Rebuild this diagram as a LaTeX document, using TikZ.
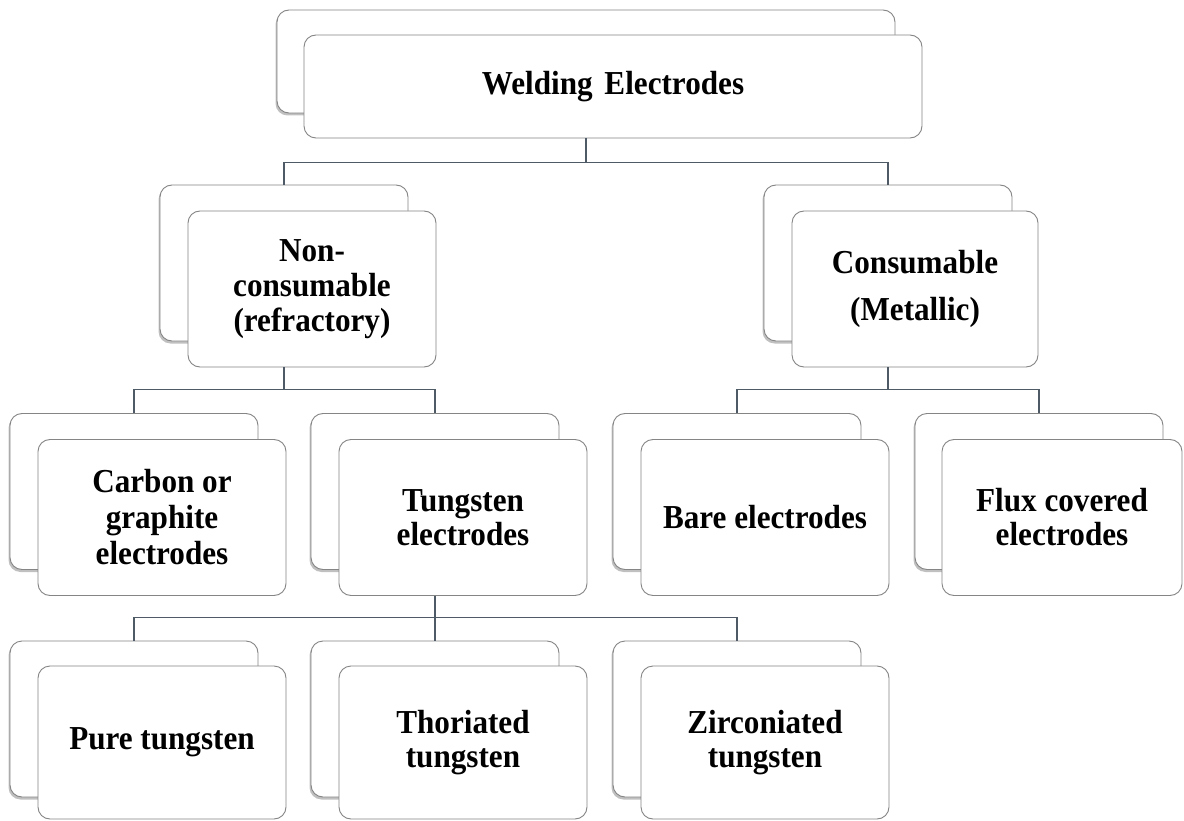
\documentclass[tikz,border=0pt]{standalone}
\usepackage{fontspec}
\setmainfont{Liberation Serif}
\newfontfamily\lblfont{Liberation Serif Bold}[FakeStretch=0.93]
\usetikzlibrary{shadows}
\definecolor{boxline}{HTML}{858585}
\definecolor{connline}{HTML}{4E5A65}
\begin{document}
\begin{tikzpicture}[x=1pt,y=-1pt,
  backbox/.style={draw=boxline, line width=0.9pt, fill=white, rounded corners=12pt,
    inner sep=0pt, minimum width=248pt, minimum height=156pt,
    drop shadow={shadow xshift=-1.5pt, shadow yshift=-2.5pt, opacity=0.35, fill=black!70}},
  frontbox/.style={draw=boxline, line width=0.9pt, fill=white, rounded corners=12pt,
    inner sep=0pt, minimum width=248pt, minimum height=156pt, align=center,
    font=\fontsize{33.5}{34}\lblfont},
  conn/.style={draw=connline, line width=1.6pt}]
\useasboundingbox[fill=white] (0,0) rectangle (1184,821);

% level 1
\node[backbox, minimum width=618pt, minimum height=103pt] (we-b) at (586,61.5) {};
\node[frontbox, minimum width=618pt, minimum height=103pt] (we-f) at (613,86.5) {Welding\hspace{0.12em} Electrodes};

% level 2
\node[backbox] (nc-b) at (284,263) {};
\node[frontbox, font=\fontsize{33.5}{35}\lblfont] (nc-f) at (312,289) {Non-\\consumable\\(refractory)};
\node[backbox] (co-b) at (888,263) {};
\node[frontbox, minimum width=246pt, font=\fontsize{33.5}{47}\lblfont] (co-f) at (915,289) {Consumable\\(Metallic)};

% level 3
\node[backbox] (ca-b) at (134,491.5) {};
\node[frontbox, font=\fontsize{33.5}{36}\lblfont] (ca-f) at (162,517.5) {Carbon or\\graphite\\electrodes};
\node[backbox] (tu-b) at (435,491.5) {};
\node[frontbox] (tu-f) at (463,517.5) {Tungsten\\electrodes};
\node[backbox] (ba-b) at (737,491.5) {};
\node[frontbox] (ba-f) at (765,517.5) {Bare electrodes};
\node[backbox] (fl-b) at (1039,491.5) {};
\node[frontbox, minimum width=240pt] (fl-f) at (1062,517.5) {Flux covered\\electrodes};

% level 4
\node[backbox] (pu-b) at (134,719) {};
\node[frontbox, minimum height=153pt] (pu-f) at (162,742.5) {Pure tungsten};
\node[backbox] (th-b) at (435,719) {};
\node[frontbox, minimum height=153pt] (th-f) at (463,742.5) {Thoriated\\tungsten};
\node[backbox] (zi-b) at (737,719) {};
\node[frontbox, minimum height=153pt] (zi-f) at (765,742.5) {Zirconiated\\tungsten};

% connectors
\draw[conn] (we-b.center |- we-f.south) -- ++(0,24) coordinate (j1);
\draw[conn] (j1) -| (nc-b.north);
\draw[conn] (j1) -| (co-b.north);

\draw[conn] (nc-b.center |- nc-f.south) -- ++(0,22) coordinate (j2);
\draw[conn] (j2) -| (ca-b.north);
\draw[conn] (j2) -| (tu-b.north);

\draw[conn] (co-b.center |- co-f.south) -- ++(0,22) coordinate (j3);
\draw[conn] (j3) -| (ba-b.north);
\draw[conn] (j3) -| (fl-b.north);

\draw[conn] (tu-b.center |- tu-f.south) -- ++(0,21.5) coordinate (j4);
\draw[conn] (j4) -| (pu-b.north);
\draw[conn] (j4) -| (th-b.north);
\draw[conn] (j4) -| (zi-b.north);
\end{tikzpicture}
\end{document}
